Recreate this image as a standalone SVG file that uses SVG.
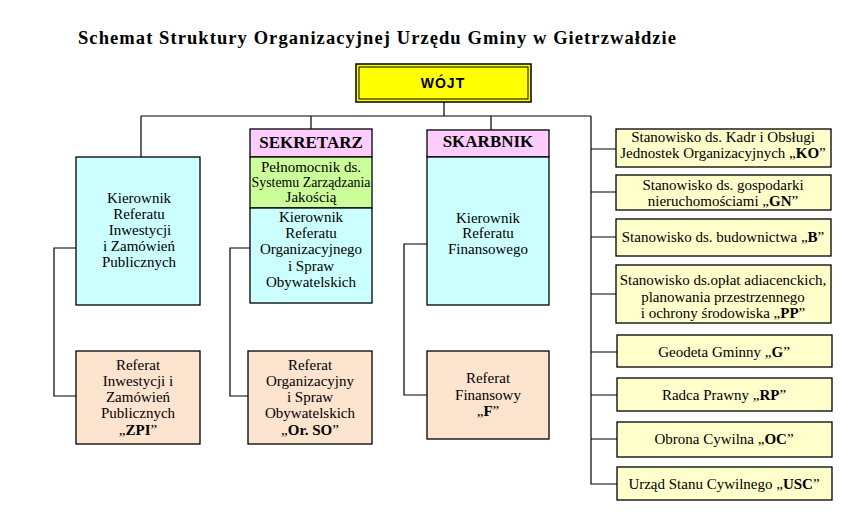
<svg xmlns="http://www.w3.org/2000/svg" width="865" height="530" viewBox="0 0 865 530">
<style>
  .bx{stroke:#000;stroke-width:1.3}
  .cy{fill:#CCFFFF}
  .pk{fill:#FFCCFF}
  .gr{fill:#CCFF99}
  .pe{fill:#FDE4CE}
  .ly{fill:#FFFFCC}
  .t{font-family:"Liberation Serif","Times New Roman",serif;font-size:15px;fill:#000;text-anchor:middle}
  .h{font-family:"Liberation Serif","Times New Roman",serif;font-size:17px;font-weight:bold;fill:#000;text-anchor:middle}
  .b{font-weight:bold}
  .ln{stroke:#000;stroke-width:1.2;fill:none}
</style>
<rect width="865" height="530" fill="#fff"/>
<text x="78" y="44" textLength="598" lengthAdjust="spacing" style="font-family:'Liberation Serif','Times New Roman',serif;font-size:18.5px;font-weight:bold;fill:#000">Schemat Struktury Organizacyjnej Urzędu Gminy w Gietrzwałdzie</text>

<g id="connectors">
  <path class="ln" d="M444,102 V116 M141,116 H591 M141,116 V157 M311,116 V129 M491,116 V130"/>
  <path class="ln" d="M591,116 V484 H617"/>
  <path class="ln" d="M591,149 H616 M591,192 H616 M591,237 H616 M591,294 H616 M591,352 H617 M591,395 H617 M591,439 H617"/>
  <path class="ln" d="M76,248 H54 V396 H76"/>
  <path class="ln" d="M250,248 H230 V396 H248"/>
  <path class="ln" d="M427,244 H404 V395 H427"/>
</g>

<g id="wojt">
  <rect x="356" y="64" width="175" height="38" fill="#FFFF00" stroke="#000" stroke-width="1.5"/>
  <rect x="359" y="67" width="169" height="32" fill="none" stroke="#000" stroke-width="1"/>
  <text x="443" y="88" style="font-family:'Liberation Sans',Arial,sans-serif;font-size:14px;font-weight:bold;letter-spacing:1px;text-anchor:middle">WÓJT</text>
</g>

<g id="kierownik-zpi">
  <rect class="bx cy" x="76" y="157" width="124" height="148"/>
  <text class="t" x="139" y="203">Kierownik</text>
  <text class="t" x="139" y="219">Referatu</text>
  <text class="t" x="140" y="235">Inwestycji</text>
  <text class="t" x="139" y="251">i Zamówień</text>
  <text class="t" x="139" y="267">Publicznych</text>
</g>

<g id="sekretarz">
  <rect class="bx pk" x="250" y="129" width="122" height="28"/>
  <text class="h" x="311" y="148">SEKRETARZ</text>
  <rect class="bx gr" x="250" y="157" width="122" height="51"/>
  <text class="t" x="311" y="172">Pełnomocnik ds.</text>
  <text class="t" x="311" y="187" textLength="119" lengthAdjust="spacingAndGlyphs">Systemu Zarządzania</text>
  <text class="t" x="311" y="202">Jakością</text>
  <rect class="bx cy" x="250" y="208" width="122" height="95"/>
  <text class="t" x="311" y="222">Kierownik</text>
  <text class="t" x="311" y="238">Referatu</text>
  <text class="t" x="311" y="254">Organizacyjnego</text>
  <text class="t" x="311" y="271">i Spraw</text>
  <text class="t" x="311" y="287">Obywatelskich</text>
</g>

<g id="skarbnik">
  <rect class="bx pk" x="427" y="130" width="122" height="27"/>
  <text class="h" x="488" y="147">SKARBNIK</text>
  <rect class="bx cy" x="427" y="157" width="122" height="148"/>
  <text class="t" x="488" y="223">Kierownik</text>
  <text class="t" x="488" y="238">Referatu</text>
  <text class="t" x="488" y="254">Finansowego</text>
</g>

<g id="referat-zpi">
  <rect class="bx pe" x="76" y="351" width="124" height="93"/>
  <text class="t" x="138" y="370">Referat</text>
  <text class="t" x="138" y="386">Inwestycji i</text>
  <text class="t" x="138" y="402">Zamówień</text>
  <text class="t" x="138" y="418">Publicznych</text>
  <text class="t" x="138" y="435">„<tspan class="b">ZPI</tspan>”</text>
</g>

<g id="referat-orso">
  <rect class="bx pe" x="248" y="351" width="124" height="93"/>
  <text class="t" x="310" y="370">Referat</text>
  <text class="t" x="310" y="386">Organizacyjny</text>
  <text class="t" x="310" y="402">i Spraw</text>
  <text class="t" x="310" y="418">Obywatelskich</text>
  <text class="t" x="310" y="435">„<tspan class="b">Or. SO</tspan>”</text>
</g>

<g id="referat-f">
  <rect class="bx pe" x="427" y="351" width="122" height="88"/>
  <text class="t" x="488" y="383">Referat</text>
  <text class="t" x="488" y="400">Finansowy</text>
  <text class="t" x="488" y="416">„<tspan class="b">F</tspan>”</text>
</g>

<g id="ko">
  <rect class="bx ly" x="616" y="129" width="215" height="38"/>
  <text class="t" x="723" y="142">Stanowisko ds. Kadr i Obsługi</text>
  <text class="t" x="723" y="158">Jednostek Organizacyjnych „<tspan class="b">KO</tspan>”</text>
</g>

<g id="gn">
  <rect class="bx ly" x="616" y="175" width="215" height="35"/>
  <text class="t" x="723" y="190">Stanowisko ds. gospodarki</text>
  <text class="t" x="723" y="206">nieruchomościami „<tspan class="b">GN</tspan>”</text>
</g>

<g id="b">
  <rect class="bx ly" x="616" y="219" width="215" height="37"/>
  <text class="t" x="723" y="242">Stanowisko ds. budownictwa „<tspan class="b">B</tspan>”</text>
</g>

<g id="pp">
  <rect class="bx ly" x="616" y="265" width="215" height="58"/>
  <text class="t" x="723" y="285">Stanowisko ds.opłat adiacenckich,</text>
  <text class="t" x="723" y="302">planowania przestrzennego</text>
  <text class="t" x="723" y="318">i ochrony środowiska „<tspan class="b">PP</tspan>”</text>
</g>

<g id="g">
  <rect class="bx ly" x="617" y="335" width="215" height="32"/>
  <text class="t" x="724" y="357">Geodeta Gminny „<tspan class="b">G</tspan>”</text>
</g>

<g id="rp">
  <rect class="bx ly" x="617" y="378" width="215" height="33"/>
  <text class="t" x="724" y="400">Radca Prawny „<tspan class="b">RP</tspan>”</text>
</g>

<g id="oc">
  <rect class="bx ly" x="617" y="422" width="215" height="35"/>
  <text class="t" x="724" y="444">Obrona Cywilna „<tspan class="b">OC</tspan>”</text>
</g>

<g id="usc">
  <rect class="bx ly" x="617" y="467" width="215" height="33"/>
  <text class="t" x="724" y="489">Urząd Stanu Cywilnego „<tspan class="b">USC</tspan>”</text>
</g>
</svg>
